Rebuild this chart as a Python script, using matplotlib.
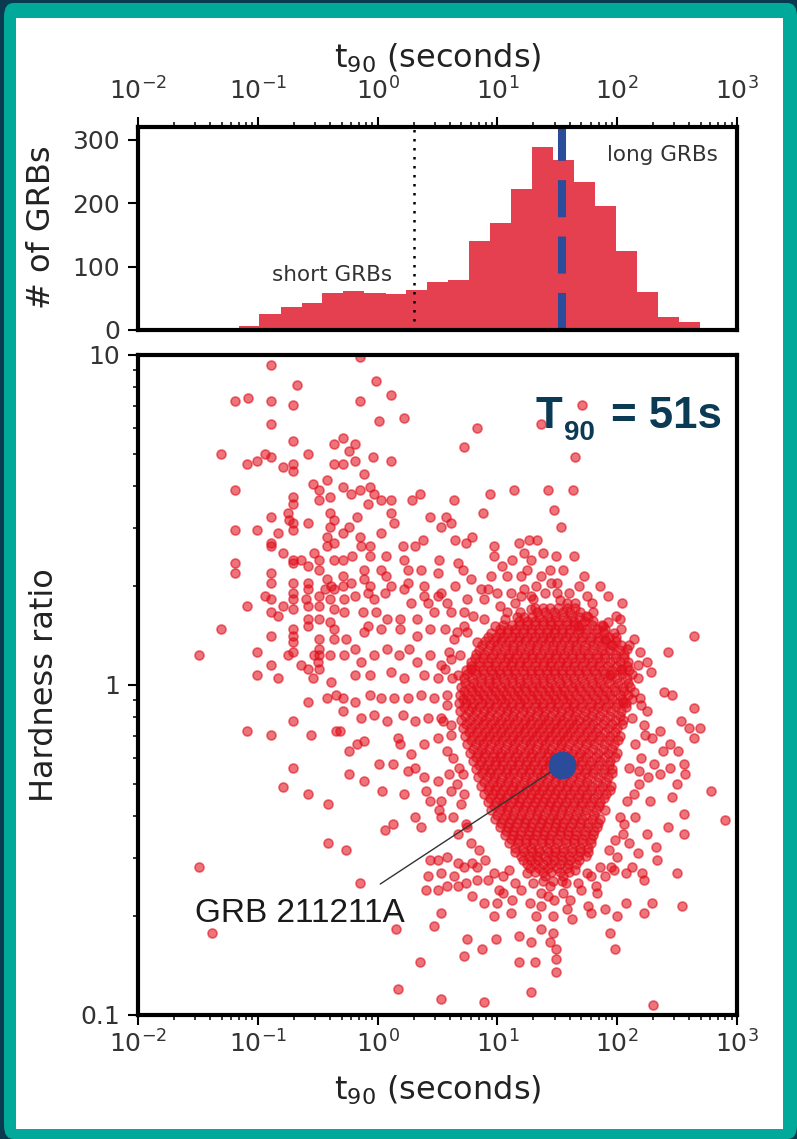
import numpy as np
import matplotlib
matplotlib.use("Agg")
import matplotlib.pyplot as plt
from matplotlib.patches import FancyBboxPatch, Rectangle
from matplotlib import ticker

# ---------------- data ----------------
# histogram: log10(t90 [s]) bin edges and counts
hist_log_edges = [-1.336, -1.161, -0.986, -0.810, -0.635, -0.460, -0.285, -0.110,
                  0.066, 0.241, 0.416, 0.591, 0.766, 0.942, 1.117, 1.292, 1.467,
                  1.642, 1.818, 1.993, 2.168, 2.343, 2.518, 2.694]
hist_counts = [3, 6, 25, 37, 43, 58, 61, 58, 57, 63, 76, 79, 140, 168, 222,
               288, 268, 234, 196, 124, 60, 21, 13]

divide_t90 = 2.0          # short / long divide (s)
grb_t90 = 34.3            # GRB 211211A t90 (s)
grb_hr = 0.573            # GRB 211211A hardness ratio
grb_name = "GRB 211211A"

# scatter points: (log10 t90, log10 hardness ratio)
short_pts = [
    (-0.89, 0.97), (-0.675, 0.91), (-1.19, 0.86), (-1.08, 0.87), (-0.89, 0.86), (-0.71, 0.85),
    (-0.89, 0.79), (-0.71, 0.74), (-1.31, 0.70), (-0.58, 0.70), (-0.36, 0.73), (-0.94, 0.70),
    (-1.01, 0.68), (-0.89, 0.69), (-1.09, 0.67), (-0.79, 0.66), (-0.71, 0.67), (-0.71, 0.65),
    (-0.36, 0.67), (-1.19, 0.59), (-0.54, 0.61), (-0.49, 0.59), (-0.42, 0.62), (-0.71, 0.57),
    (-0.71, 0.55), (-0.49, 0.56), (-0.40, 0.57), (-0.75, 0.52), (-0.74, 0.50), (-0.89, 0.51),
    (-0.58, 0.49), (-0.71, 0.49), (-0.71, 0.47), (-0.40, 0.52), (-0.40, 0.48), (-0.36, 0.50),
    (-1.19, 0.47), (-1.01, 0.47), (-0.83, 0.46), (-0.89, 0.43), (-0.89, 0.42), (-0.42, 0.45),
    (-0.42, 0.42), (-0.36, 0.43), (-0.79, 0.40), (-0.71, 0.38), (-0.71, 0.37), (-0.64, 0.38),
    (-0.53, 0.40), (-0.49, 0.38), (-0.58, 0.36), (-0.49, 0.35), (-0.36, 0.38), (-1.19, 0.37),
    (-1.19, 0.34), (-0.89, 0.34), (-0.89, 0.31), (-0.71, 0.31), (-0.71, 0.28), (-0.71, 0.26),
    (-0.58, 0.31), (-0.58, 0.29), (-0.42, 0.32), (-0.39, 0.30), (-0.36, 0.29), (-0.44, 0.29),
    (-0.94, 0.27), (-0.89, 0.26), (-0.79, 0.24), (-0.71, 0.23), (-0.60, 0.26), (-0.58, 0.24),
    (-0.49, 0.27), (-0.49, 0.24), (-0.40, 0.26), (-0.36, 0.23), (-1.09, 0.24), (-0.89, 0.22),
    (-0.83, 0.21), (-0.58, 0.20), (-0.58, 0.18), (-0.49, 0.20), (-0.40, 0.19), (-0.36, 0.17),
    (-1.31, 0.17), (-0.71, 0.17), (-0.71, 0.15), (-0.71, 0.13), (-0.89, 0.15), (-0.49, 0.14),
    (-0.49, 0.11), (-0.49, 0.09), (-0.36, 0.14), (-1.49, 0.09), (-1.01, 0.10), (-0.71, 0.10),
    (-0.75, 0.09), (-0.89, 0.06), (-0.64, 0.06), (-0.58, 0.05), (-0.53, 0.09), (-0.50, 0.07),
    (-0.40, 0.09), (-1.01, 0.03), (-0.83, 0.02), (-0.49, 0.05), (-0.54, 0.02), (-0.39, 0.01),
    (-0.15, 0.995),
]
mid_pts = [
    (-0.01, 0.92), (-0.15, 0.86), (0.11, 0.88), (0.01, 0.80), (0.22, 0.81), (0.83, 0.78),
    (0.72, 0.72), (-0.29, 0.75), (-0.19, 0.73), (-0.24, 0.71), (-0.29, 0.67), (-0.19, 0.68),
    (-0.04, 0.69), (0.11, 0.68), (-0.11, 0.64), (-0.29, 0.60), (-0.22, 0.58), (-0.15, 0.59),
    (-0.06, 0.60), (-0.03, 0.58), (0.03, 0.56), (0.11, 0.56), (-0.08, 0.55), (0.11, 0.52),
    (0.14, 0.49), (0.29, 0.56), (0.35, 0.58), (0.64, 0.56), (0.94, 0.58), (1.14, 0.59),
    (0.88, 0.52), (0.44, 0.51), (0.57, 0.51), (0.61, 0.49), (0.53, 0.48), (-0.17, 0.51),
    (-0.29, 0.46), (-0.24, 0.48), (-0.15, 0.45), (0.03, 0.46), (-0.06, 0.42), (-0.14, 0.42),
    (-0.21, 0.39), (-0.29, 0.38), (-0.06, 0.39), (0.07, 0.39), (0.21, 0.42), (0.31, 0.42),
    (0.38, 0.44), (0.65, 0.44), (0.74, 0.43), (0.79, 0.45), (0.97, 0.42), (0.97, 0.39),
    (1.18, 0.43), (1.26, 0.44), (1.22, 0.40), (1.28, 0.38), (0.22, 0.38), (0.51, 0.38),
    (0.67, 0.37), (0.71, 0.35), (0.25, 0.35), (0.36, 0.35), (0.03, 0.35), (-0.11, 0.35),
    (0.50, 0.34), (1.04, 0.36), (1.08, 0.33), (-0.29, 0.33), (-0.29, 0.30), (-0.22, 0.31),
    (-0.11, 0.32), (-0.06, 0.30), (-0.08, 0.28), (0.07, 0.33), (0.11, 0.30), (0.06, 0.28),
    (0.25, 0.31), (0.22, 0.29), (0.39, 0.30), (0.39, 0.27), (0.65, 0.30), (0.78, 0.32),
    (0.50, 0.27), (0.53, 0.28), (0.86, 0.29), (0.92, 0.29), (0.89, 0.26), (1.00, 0.28),
    (1.11, 0.28), (1.22, 0.29), (1.28, 0.27), (-0.19, 0.27), (-0.28, 0.26), (-0.03, 0.26),
    (0.28, 0.25), (0.42, 0.25), (0.58, 0.25), (0.75, 0.26), (-0.28, 0.22), (-0.12, 0.22),
    (-0.01, 0.22), (0.08, 0.20), (0.19, 0.20), (0.33, 0.20), (0.47, 0.22), (0.61, 0.22),
    (0.72, 0.22), (0.89, 0.20), (1.06, 0.20), (1.19, 0.22), (1.28, 0.23), (-0.08, 0.18),
    (-0.11, 0.16), (0.03, 0.17), (0.19, 0.17), (0.33, 0.15), (0.44, 0.17), (0.56, 0.17),
    (0.64, 0.14), (0.75, 0.16), (0.83, 0.13), (-0.26, 0.14), (-0.19, 0.11), (-0.28, 0.09),
    (-0.14, 0.07), (-0.03, 0.09), (0.08, 0.11), (0.18, 0.09), (0.26, 0.11), (0.33, 0.07),
    (0.44, 0.09), (0.53, 0.06), (0.61, 0.08), (0.69, 0.09), (0.78, 0.05), (-0.19, 0.03),
    (-0.06, 0.03), (0.11, 0.04), (0.22, 0.02), (0.39, 0.03), (0.50, 0.02), (0.67, 0.03),
    (0.95, 0.33), (1.02, 0.24), (1.15, 0.25), (1.20, 0.33), (1.32, 0.30), (1.40, 0.28),
    (1.25, 0.35), (1.12, 0.38), (1.38, 0.40), (1.55, 0.35), (1.72, 0.33), (1.80, 0.22),
    (1.58, 0.25), (1.45, 0.31),
    (-0.58, -0.05), (-0.42, -0.04), (-0.35, -0.03), (-0.71, -0.11), (-1.09, -0.14),
    (-0.89, -0.15), (-0.56, -0.15), (-0.35, -0.14), (-0.71, -0.25), (-0.79, -0.31),
    (-0.58, -0.33), (-0.41, -0.36), (-0.41, -0.48), (-1.49, -0.55), (-1.38, -0.75),
    (-0.29, -0.04), (-0.19, -0.05), (-0.29, -0.08), (-0.06, -0.03), (0.03, -0.04), (0.14, -0.04),
    (0.25, -0.04), (0.36, -0.03), (0.47, -0.04), (0.58, -0.03), (-0.14, -0.10), (-0.03, -0.09),
    (0.08, -0.11), (0.21, -0.09), (0.31, -0.11), (0.42, -0.10), (0.53, -0.10), (0.61, -0.12),
    (-0.31, -0.14), (-0.11, -0.17), (-0.17, -0.18), (-0.24, -0.20), (0.17, -0.16), (0.19, -0.18),
    (0.28, -0.21), (0.39, -0.18), (0.50, -0.16), (0.58, -0.20), (0.01, -0.24), (0.13, -0.24),
    (0.25, -0.26), (0.31, -0.25), (0.39, -0.28), (0.50, -0.29), (0.60, -0.27), (0.71, -0.27),
    (-0.24, -0.27), (-0.11, -0.29), (0.04, -0.32), (0.22, -0.33), (0.40, -0.32), (0.44, -0.35),
    (0.53, -0.35), (0.61, -0.32), (0.72, -0.33), (0.51, -0.38), (0.53, -0.40), (0.31, -0.40),
    (0.36, -0.43), (0.13, -0.42), (0.06, -0.44), (0.63, -0.40), (0.67, -0.45), (0.75, -0.43),
    (-0.26, -0.50), (-0.15, -0.60), (0.44, -0.53), (0.50, -0.53), (0.58, -0.52), (0.67, -0.54),
    (0.72, -0.55), (0.79, -0.54), (0.83, -0.55), (0.42, -0.58), (0.53, -0.57), (0.64, -0.58),
    (0.74, -0.60), (0.83, -0.59), (0.92, -0.59), (0.97, -0.57), (0.40, -0.62), (0.50, -0.62),
    (0.58, -0.61), (0.67, -0.61), (0.79, -0.64), (0.89, -0.66), (1.01, -0.62), (1.00, -0.66),
    (0.97, -0.70), (0.53, -0.69), (0.15, -0.74), (0.47, -0.73), (0.75, -0.77), (0.87, -0.80),
    (0.99, -0.77), (1.11, -0.69), (1.18, -0.76), (1.28, -0.78), (0.35, -0.84), (0.72, -0.82),
    (1.18, -0.84), (1.31, -0.84), (0.17, -0.92), (0.53, -0.95), (0.89, -0.96), (1.28, -0.93),
]
long_outer_pts = [
    (1.71, 0.85), (1.36, 0.79), (1.65, 0.69), (1.42, 0.59), (1.63, 0.59), (1.47, 0.53),
    (1.53, 0.48), (1.33, 0.44), (1.49, 0.39), (1.64, 0.39), (1.44, 0.35), (1.36, 0.33),
    (1.50, 0.31), (1.68, 0.30), (1.60, 0.28), (1.86, 0.30), (1.92, 0.27), (1.79, 0.25),
    (2.04, 0.25), (2.64, 0.15), (2.42, 0.10), (1.99, 0.21), (1.92, 0.19), (1.74, 0.21),
    (1.67, 0.18), (2.03, 0.17), (1.90, 0.14), (2.14, 0.14), (2.08, 0.11), (2.19, 0.10),
    (2.25, 0.07), (2.17, 0.06), (2.28, 0.04), (2.03, 0.05), (1.94, 0.03),
    (2.39, -0.02), (2.46, -0.03), (2.64, -0.07), (2.53, -0.11), (2.60, -0.13), (2.69, -0.13),
    (2.64, -0.16), (2.36, -0.14), (2.44, -0.18), (2.51, -0.20), (2.56, -0.24), (2.25, -0.08),
    (2.19, -0.04), (2.14, -0.02), (2.29, -0.16), (2.38, -0.20), (2.31, -0.24), (2.44, -0.25),
    (2.36, -0.27), (2.57, -0.27), (2.50, -0.30), (2.78, -0.32), (2.46, -0.34), (2.90, -0.41),
    (2.56, -0.39), (2.56, -0.45), (2.42, -0.43), (2.32, -0.49), (2.33, -0.53), (2.50, -0.57),
    (2.21, -0.57), (2.22, -0.59), (2.07, -0.57), (2.54, -0.67), (2.29, -0.66), (2.22, -0.69),
    (2.07, -0.66), (2.00, -0.70), (1.90, -0.68), (1.76, -0.67), (1.78, -0.69), (1.94, -0.75),
    (1.98, -0.80), (1.58, -0.68), (1.47, -0.65), (1.61, -0.65), (1.46, -0.70), (1.46, -0.75),
    (1.49, -0.80), (1.49, -0.83), (1.49, -0.87), (1.44, -0.78), (1.36, -0.63), (1.36, -0.67),
    (1.36, -0.74), (1.82, -0.61), (1.83, -0.63), (1.67, -0.60), (1.57, -0.60), (1.44, -0.61),
    (2.30, -0.97), (1.97, -0.56), (2.17, -0.51), (2.12, -0.10), (2.15, -0.18), (2.10, -0.25),
    (2.18, -0.30), (2.08, -0.35), (2.15, -0.40), (2.05, -0.45), (2.10, -0.48), (2.00, -0.52),
    (1.95, -0.55), (2.20, -0.22), (2.22, -0.12), (2.05, -0.05), (2.02, -0.40), (1.90, -0.58),
    (1.75, -0.57), (1.65, -0.56), (1.55, -0.58), (1.40, -0.58), (1.30, -0.60), (1.25, -0.57),
    (1.15, -0.60), (1.10, -0.56), (1.05, -0.58), (2.27, -0.35), (2.25, -0.45), (2.12, -0.55),
    (0.60, 0.10), (0.62, 0.02), (0.58, -0.06), (0.61, -0.15), (0.63, -0.22), (0.66, -0.30),
    (0.70, -0.36), (0.74, -0.42), (0.78, -0.48), (0.85, -0.50), (0.90, -0.53), (0.66, 0.16),
    (0.72, 0.18), (0.80, 0.21), (0.56, 0.05), (0.55, -0.11), (0.68, -0.25),
    (1.05, -0.63), (1.12, -0.65), (1.20, -0.62), (1.27, -0.66), (1.42, -0.64), (1.55, -0.63),
    (1.70, -0.62), (1.78, -0.58), (1.86, -0.55), (1.93, -0.50), (1.32, -0.70), (1.62, -0.71),
    (2.17, 0.02), (2.20, -0.06), (2.23, -0.15), (2.18, -0.26), (2.14, -0.33), (2.06, -0.42),
    (1.98, -0.47), (2.10, 0.12), (2.02, 0.20), (2.26, -0.28),
    (1.20, 0.27), (1.30, 0.26), (1.50, 0.28), (1.65, 0.25), (1.75, 0.27), (1.08, 0.22),
    (0.98, 0.18), (1.88, 0.18), (1.96, 0.12),
]
# dense core of long GRBs, read row by row: log10 HR of each row, log10 t90 values
core_row_log_hr = [0.22, 0.195, 0.17, 0.145, 0.12, 0.095, 0.07, 0.045, 0.02, -0.005,
                   -0.03, -0.055, -0.08, -0.105, -0.13, -0.155, -0.18, -0.205, -0.23,
                   -0.255, -0.28, -0.305, -0.33, -0.355, -0.38, -0.405, -0.43, -0.455,
                   -0.48, -0.505, -0.53, -0.555]
core_row_log_t90 = [
    [1.33, 1.40, 1.47, 1.55, 1.61, 1.69],
    [1.18, 1.25, 1.31, 1.38, 1.44, 1.51, 1.58, 1.64, 1.72, 1.80],
    [1.02, 1.09, 1.15, 1.22, 1.28, 1.35, 1.42, 1.48, 1.54, 1.61, 1.68, 1.75, 1.83, 1.90],
    [0.92, 0.99, 1.05, 1.12, 1.18, 1.25, 1.31, 1.38, 1.44, 1.51, 1.57, 1.64, 1.71, 1.78, 1.85, 1.93, 1.99],
    [0.87, 0.94, 1.00, 1.07, 1.13, 1.20, 1.27, 1.33, 1.40, 1.46, 1.53, 1.60, 1.66, 1.73, 1.80, 1.87, 1.95, 2.03],
    [0.82, 0.89, 0.96, 1.03, 1.10, 1.16, 1.23, 1.29, 1.36, 1.43, 1.49, 1.56, 1.62, 1.69, 1.76, 1.83, 1.90, 1.98, 2.06],
    [0.78, 0.85, 0.92, 0.99, 1.06, 1.12, 1.19, 1.25, 1.32, 1.39, 1.45, 1.52, 1.58, 1.65, 1.72, 1.79, 1.86, 1.94, 2.02, 2.09],
    [0.74, 0.81, 0.88, 0.95, 1.01, 1.08, 1.14, 1.21, 1.28, 1.34, 1.41, 1.47, 1.54, 1.61, 1.67, 1.74, 1.81, 1.88, 1.96, 2.04, 2.10],
    [0.72, 0.79, 0.86, 0.93, 0.99, 1.05, 1.12, 1.18, 1.25, 1.31, 1.38, 1.44, 1.51, 1.57, 1.64, 1.71, 1.78, 1.85, 1.92, 2.00, 2.08],
    [0.70, 0.77, 0.83, 0.90, 0.96, 1.03, 1.09, 1.16, 1.22, 1.29, 1.35, 1.42, 1.48, 1.55, 1.62, 1.68, 1.75, 1.82, 1.89, 1.97, 2.05, 2.11],
    [0.69, 0.75, 0.82, 0.88, 0.95, 1.01, 1.07, 1.14, 1.20, 1.27, 1.33, 1.40, 1.46, 1.53, 1.59, 1.66, 1.73, 1.80, 1.87, 1.94, 2.02, 2.09],
    [0.68, 0.74, 0.80, 0.87, 0.93, 1.00, 1.06, 1.12, 1.19, 1.25, 1.32, 1.38, 1.45, 1.51, 1.58, 1.64, 1.71, 1.78, 1.85, 1.92, 2.00, 2.07],
    [0.69, 0.76, 0.82, 0.89, 0.95, 1.02, 1.08, 1.14, 1.21, 1.27, 1.34, 1.40, 1.47, 1.53, 1.60, 1.66, 1.73, 1.80, 1.87, 1.95, 2.03],
    [0.70, 0.77, 0.84, 0.90, 0.97, 1.03, 1.10, 1.16, 1.23, 1.29, 1.36, 1.42, 1.49, 1.55, 1.62, 1.68, 1.75, 1.82, 1.90, 1.98, 2.05],
    [0.71, 0.78, 0.85, 0.92, 0.98, 1.05, 1.11, 1.18, 1.24, 1.31, 1.37, 1.44, 1.50, 1.57, 1.63, 1.70, 1.77, 1.84, 1.92, 2.00],
    [0.73, 0.80, 0.87, 0.93, 1.00, 1.06, 1.13, 1.19, 1.26, 1.32, 1.39, 1.45, 1.52, 1.58, 1.65, 1.72, 1.79, 1.86, 1.94, 2.02],
    [0.75, 0.82, 0.88, 0.95, 1.01, 1.08, 1.14, 1.21, 1.27, 1.34, 1.40, 1.47, 1.53, 1.60, 1.67, 1.74, 1.81, 1.89, 1.97],
    [0.77, 0.84, 0.90, 0.97, 1.03, 1.10, 1.16, 1.23, 1.29, 1.36, 1.42, 1.49, 1.55, 1.62, 1.69, 1.76, 1.84, 1.92, 2.00],
    [0.80, 0.86, 0.93, 0.99, 1.05, 1.12, 1.18, 1.25, 1.31, 1.38, 1.44, 1.51, 1.57, 1.64, 1.71, 1.78, 1.86, 1.94],
    [0.82, 0.89, 0.95, 1.02, 1.08, 1.14, 1.21, 1.27, 1.34, 1.40, 1.47, 1.53, 1.60, 1.67, 1.74, 1.81, 1.89, 1.96],
    [0.84, 0.91, 0.97, 1.04, 1.10, 1.17, 1.23, 1.30, 1.36, 1.43, 1.49, 1.56, 1.62, 1.69, 1.76, 1.84, 1.92],
    [0.86, 0.93, 1.00, 1.06, 1.13, 1.19, 1.26, 1.32, 1.39, 1.45, 1.52, 1.58, 1.65, 1.72, 1.79, 1.87, 1.95],
    [0.89, 0.96, 1.02, 1.09, 1.15, 1.22, 1.28, 1.35, 1.41, 1.48, 1.54, 1.61, 1.68, 1.75, 1.83, 1.91],
    [0.92, 0.99, 1.05, 1.12, 1.18, 1.25, 1.31, 1.38, 1.44, 1.51, 1.57, 1.64, 1.71, 1.78, 1.86],
    [0.95, 1.02, 1.08, 1.15, 1.21, 1.28, 1.34, 1.41, 1.47, 1.54, 1.60, 1.67, 1.74, 1.82, 1.90],
    [0.98, 1.05, 1.11, 1.18, 1.24, 1.31, 1.37, 1.44, 1.50, 1.57, 1.64, 1.71, 1.79, 1.86],
    [1.02, 1.09, 1.15, 1.22, 1.28, 1.35, 1.41, 1.48, 1.54, 1.61, 1.68, 1.76, 1.83],
    [1.06, 1.13, 1.19, 1.26, 1.32, 1.39, 1.45, 1.52, 1.59, 1.66, 1.73, 1.80],
    [1.10, 1.17, 1.24, 1.30, 1.37, 1.43, 1.50, 1.57, 1.64, 1.71, 1.78],
    [1.15, 1.22, 1.29, 1.35, 1.42, 1.48, 1.55, 1.62, 1.69, 1.76],
    [1.21, 1.28, 1.34, 1.41, 1.47, 1.54, 1.61, 1.68],
    [1.27, 1.35, 1.42, 1.50, 1.58],
]
# second (interleaved) layer of the dense core
core2_row_log_hr = [0.2575, 0.2325, 0.2075, 0.1825, 0.1575, 0.1325, 0.1075, 0.0825,
                    0.0575, 0.0325, 0.0075, -0.0175, -0.0425, -0.0675, -0.0925, -0.1175,
                    -0.1425, -0.1675, -0.1925, -0.2175, -0.2425, -0.2675, -0.2925, -0.3175,
                    -0.3425, -0.3675, -0.3925, -0.4175, -0.4425, -0.4675, -0.4925, -0.5175,
                    -0.5425, -0.5675, -0.5925]
core2_row_log_t90 = [
    [1.52],
    [1.31, 1.38, 1.44, 1.51, 1.58, 1.65],
    [1.16, 1.22, 1.29, 1.35, 1.42, 1.48, 1.55, 1.62, 1.68, 1.76],
    [1.05, 1.12, 1.18, 1.25, 1.31, 1.38, 1.45, 1.51, 1.58, 1.64, 1.71, 1.79, 1.87],
    [0.95, 1.02, 1.08, 1.15, 1.21, 1.28, 1.35, 1.41, 1.47, 1.54, 1.60, 1.67, 1.74, 1.82, 1.89, 1.97],
    [0.90, 0.97, 1.03, 1.10, 1.17, 1.23, 1.30, 1.36, 1.43, 1.49, 1.56, 1.63, 1.70, 1.77, 1.84, 1.91, 1.99],
    [0.85, 0.92, 0.99, 1.06, 1.13, 1.19, 1.26, 1.32, 1.39, 1.46, 1.52, 1.59, 1.66, 1.72, 1.80, 1.87, 1.94, 2.02],
    [0.81, 0.88, 0.95, 1.02, 1.09, 1.15, 1.22, 1.29, 1.35, 1.42, 1.48, 1.55, 1.62, 1.69, 1.76, 1.83, 1.90, 1.98, 2.06],
    [0.78, 0.85, 0.92, 0.98, 1.05, 1.11, 1.18, 1.24, 1.31, 1.38, 1.44, 1.51, 1.57, 1.64, 1.71, 1.78, 1.85, 1.92, 2.00, 2.08],
    [0.75, 0.82, 0.89, 0.96, 1.02, 1.09, 1.15, 1.22, 1.28, 1.35, 1.41, 1.48, 1.54, 1.61, 1.68, 1.75, 1.82, 1.89, 1.96, 2.04, 2.12],
    [0.73, 0.80, 0.86, 0.93, 0.99, 1.06, 1.12, 1.19, 1.25, 1.32, 1.38, 1.45, 1.52, 1.58, 1.65, 1.72, 1.79, 1.86, 1.93, 2.01, 2.09],
    [0.72, 0.79, 0.85, 0.92, 0.98, 1.05, 1.11, 1.17, 1.24, 1.30, 1.37, 1.43, 1.50, 1.56, 1.63, 1.70, 1.77, 1.84, 1.91, 1.98, 2.06],
    [0.71, 0.77, 0.84, 0.90, 0.97, 1.03, 1.09, 1.16, 1.22, 1.29, 1.35, 1.42, 1.48, 1.55, 1.61, 1.68, 1.75, 1.82, 1.89, 1.96, 2.04, 2.12],
    [0.72, 0.79, 0.85, 0.92, 0.98, 1.05, 1.11, 1.18, 1.24, 1.31, 1.37, 1.44, 1.50, 1.57, 1.63, 1.70, 1.77, 1.84, 1.91, 1.99, 2.07],
    [0.73, 0.80, 0.87, 0.93, 1.00, 1.06, 1.13, 1.19, 1.26, 1.32, 1.39, 1.45, 1.52, 1.58, 1.65, 1.72, 1.79, 1.86, 1.94, 2.02],
    [0.74, 0.81, 0.88, 0.95, 1.01, 1.08, 1.14, 1.21, 1.27, 1.34, 1.40, 1.47, 1.53, 1.60, 1.66, 1.73, 1.80, 1.88, 1.96, 2.04],
    [0.76, 0.83, 0.90, 0.96, 1.03, 1.09, 1.16, 1.22, 1.29, 1.35, 1.42, 1.48, 1.55, 1.61, 1.68, 1.75, 1.82, 1.90, 1.98],
    [0.78, 0.85, 0.91, 0.98, 1.04, 1.11, 1.17, 1.24, 1.30, 1.37, 1.43, 1.50, 1.56, 1.63, 1.70, 1.77, 1.85, 1.93, 2.01],
    [0.80, 0.87, 0.93, 1.00, 1.06, 1.13, 1.19, 1.26, 1.32, 1.39, 1.45, 1.52, 1.58, 1.65, 1.72, 1.80, 1.88, 1.96],
    [0.82, 0.89, 0.96, 1.02, 1.08, 1.15, 1.21, 1.28, 1.34, 1.41, 1.47, 1.54, 1.60, 1.67, 1.74, 1.82, 1.90, 1.98],
    [0.85, 0.91, 0.98, 1.04, 1.11, 1.17, 1.24, 1.30, 1.37, 1.43, 1.50, 1.56, 1.63, 1.70, 1.77, 1.85, 1.93],
    [0.87, 0.94, 1.00, 1.07, 1.13, 1.20, 1.26, 1.33, 1.39, 1.46, 1.52, 1.59, 1.66, 1.73, 1.80, 1.88, 1.96],
    [0.89, 0.96, 1.02, 1.09, 1.15, 1.22, 1.28, 1.35, 1.41, 1.48, 1.54, 1.61, 1.68, 1.75, 1.83, 1.91],
    [0.92, 0.98, 1.05, 1.11, 1.18, 1.24, 1.31, 1.37, 1.44, 1.50, 1.57, 1.64, 1.71, 1.78, 1.86, 1.94],
    [0.94, 1.01, 1.07, 1.14, 1.20, 1.27, 1.33, 1.40, 1.46, 1.53, 1.60, 1.67, 1.74, 1.81, 1.89],
    [0.97, 1.04, 1.10, 1.17, 1.23, 1.30, 1.36, 1.43, 1.49, 1.56, 1.63, 1.70, 1.77, 1.85],
    [1.00, 1.07, 1.13, 1.20, 1.26, 1.33, 1.39, 1.46, 1.52, 1.59, 1.66, 1.73, 1.81],
    [1.03, 1.10, 1.16, 1.23, 1.29, 1.36, 1.42, 1.49, 1.55, 1.62, 1.69, 1.76, 1.84],
    [1.07, 1.13, 1.20, 1.26, 1.33, 1.39, 1.46, 1.52, 1.59, 1.66, 1.73, 1.81],
    [1.11, 1.17, 1.24, 1.30, 1.37, 1.43, 1.50, 1.57, 1.64, 1.71, 1.78],
    [1.15, 1.21, 1.28, 1.34, 1.41, 1.48, 1.55, 1.62, 1.69, 1.76],
    [1.20, 1.26, 1.33, 1.39, 1.46, 1.53, 1.60, 1.67, 1.74],
    [1.25, 1.31, 1.38, 1.45, 1.52, 1.59, 1.66],
    [1.31, 1.38, 1.45, 1.52, 1.60],
    [1.38, 1.46, 1.54],
]

# ---------------- styling ----------------
W, H = 797, 1139
plt.rcParams.update({
    "font.family": "DejaVu Sans",
    "font.size": 18,
    "xtick.labelsize": 18, "ytick.labelsize": 18,
    "xtick.direction": "out", "ytick.direction": "out",
    "xtick.major.size": 7, "ytick.major.size": 7,
    "xtick.major.width": 1.5, "ytick.major.width": 1.5,
    "xtick.minor.size": 3.5, "ytick.minor.size": 3.5,
    "xtick.minor.width": 1.1, "ytick.minor.width": 1.1,
    "xtick.labelcolor": "#333333", "ytick.labelcolor": "#333333",
})

HIST_RED = "#E5404F"
PT_RED = "#e00f1c"
BLUE = "#2B4C9B"
NAVY = "#0B3A55"

fig = plt.figure(figsize=(W / 100, H / 100), dpi=100)
fig.patch.set_facecolor("#0A3A50")
fig.add_artist(FancyBboxPatch((4 / W, 0), 1 - 4 / W, 1 - 3 / H,
                              boxstyle="round,pad=0,rounding_size=0.012",
                              transform=fig.transFigure, facecolor="#00A99A",
                              edgecolor="none", zorder=-10))
fig.add_artist(Rectangle((16 / W, 1 - 1129 / H), (783 - 16) / W, (1129 - 18) / H,
                         transform=fig.transFigure, facecolor="white",
                         edgecolor="none", zorder=-9))

ax_h = fig.add_axes([138 / W, 1 - 330 / H, 599 / W, 203 / H])
ax_s = fig.add_axes([138 / W, 1 - 1015 / H, 599 / W, 660 / H])

# ---------------- histogram ----------------
edges = 10 ** np.array(hist_log_edges)
ax_h.stairs(hist_counts, edges, fill=True, color=HIST_RED, zorder=2)
ax_h.axvline(divide_t90, color="black", lw=1.8, ls=(0, (1, 2.6)), zorder=3)
ax_h.axvline(grb_t90, color=BLUE, lw=5.8, ls=(0, (4.6, 2.4)), zorder=4)
ax_h.set_xscale("log")
ax_h.set_xlim(1e-2, 1e3)
ax_h.set_ylim(0, 320)
ax_h.set_yticks([0, 100, 200, 300])
ax_h.tick_params(axis="x", which="both", bottom=False, labelbottom=False,
                 top=True, labeltop=True, pad=9)
ax_h.tick_params(axis="y", which="both", right=False, pad=6)
ax_h.text(1.31, 77, "short GRBs", ha="right", va="baseline", fontsize=15.5, color="#333333")
ax_h.text(82.5, 267, "long GRBs", ha="left", va="baseline", fontsize=15.5, color="#333333")

# ---------------- scatter ----------------
lx = [p[0] for p in short_pts + mid_pts + long_outer_pts]
ly = [p[1] for p in short_pts + mid_pts + long_outer_pts]
for rows_y, rows_x in ((core_row_log_hr, core_row_log_t90),
                       (core2_row_log_hr, core2_row_log_t90)):
    for row_y, row_x in zip(rows_y, rows_x):
        lx.extend(row_x)
        ly.extend([row_y] * len(row_x))
lx = np.array(lx)
ly = np.array(ly)
ax_s.scatter(10 ** lx, 10 ** ly, s=42, facecolor=PT_RED, edgecolor=PT_RED,
             linewidths=1.2, alpha=0.58, zorder=2)
ax_s.plot([grb_t90], [grb_hr], "o", ms=19, color=BLUE, zorder=7)
ax_s.annotate(grb_name, xy=(grb_t90, grb_hr), xytext=(0.0299, 0.191),
              textcoords="data", ha="left", va="baseline", fontsize=24,
              family="Liberation Sans", color="#1a1a1a", zorder=6,
              arrowprops=dict(arrowstyle="-", color="#333333", lw=1.0,
                              shrinkA=15, shrinkB=0, relpos=(0.78, 1.0)))
ax_s.set_xscale("log")
ax_s.set_yscale("log")
ax_s.set_xlim(1e-2, 1e3)
ax_s.set_ylim(0.1, 10)
ax_s.set_yticks([0.1, 1, 10])
ax_s.set_yticklabels(["0.1", "1", "10"])
ax_s.yaxis.set_minor_formatter(ticker.NullFormatter())
ax_s.xaxis.set_minor_formatter(ticker.NullFormatter())
ax_s.tick_params(axis="x", which="both", top=False, pad=4)
ax_s.tick_params(axis="y", which="both", right=False, pad=6)

for ax in (ax_h, ax_s):
    for sp in ax.spines.values():
        sp.set_linewidth(3)
        sp.set_zorder(10)

# ---------------- labels ----------------
fig.text(437.5 / W, 1 - 58 / H, "t$_{90}$ (seconds)", ha="center", va="center",
         fontsize=23, color="#222222")
fig.text(437.5 / W, 1 - 1090 / H, "t$_{90}$ (seconds)", ha="center", va="center",
         fontsize=23, color="#222222")
fig.text(42 / W, 1 - 227.5 / H, "# of GRBs", rotation=90, ha="center", va="center",
         fontsize=23, color="#222222")
fig.text(45 / W, 1 - 685 / H, "Hardness ratio", rotation=90, ha="center", va="center",
         fontsize=23, color="#222222")

# T90 = 51s
fig.text(535 / W, 1 - 428 / H, "T", fontsize=31.5, fontweight="bold",
         family="Liberation Sans", color=NAVY, ha="left", va="baseline")
fig.text(564 / W, 1 - 440 / H, "90", fontsize=20, fontweight="bold",
         family="Liberation Sans", color=NAVY, ha="left", va="baseline")
fig.text(611 / W, 1 - 428 / H, "= 51s", fontsize=31.5, fontweight="bold",
         family="Liberation Sans", color=NAVY, ha="left", va="baseline")

fig.savefig("out.png", dpi=100, facecolor=fig.get_facecolor())
